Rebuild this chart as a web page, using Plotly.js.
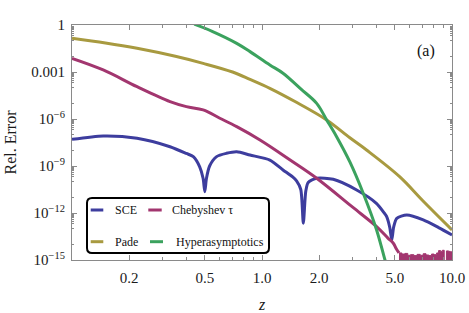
<!DOCTYPE html>
<html>
<head>
<meta charset="utf-8">
<script src="https://cdn.plot.ly/plotly-3.0.1.min.js"></script>
<style>html,body{margin:0;padding:0;background:#fff;}#chart{width:469px;height:313px;}</style>
</head>
<body>
<div id="chart"></div>
<script>
// ---- data (z values and log10 of relative error) ----
const sceZ = [0.1, 0.146, 0.22, 0.328, 0.4, 0.435, 0.47, 0.49, 0.5, 0.51, 0.53, 0.577, 0.65, 0.736, 0.865, 1.1, 1.29, 1.45, 1.52, 1.6, 1.65, 1.7, 1.75, 1.94, 2.37, 3.15, 4.0, 4.4, 4.53, 4.7, 4.82, 4.93, 5.12, 5.78, 7.06, 8.5, 10];
const sceLog = [-7.30, -7.08, -7.23, -7.77, -8.2, -8.40, -9.05, -9.8, -10.64, -9.8, -9.0, -8.40, -8.19, -8.09, -8.30, -8.62, -9.25, -9.7, -9.95, -10.5, -12.65, -10.6, -10.05, -9.78, -9.85, -10.53, -11.38, -12.0, -12.23, -12.9, -13.72, -12.9, -12.34, -12.13, -12.44, -12.93, -13.40];

const chebZ = [0.1, 0.146, 0.22, 0.328, 0.4, 0.49, 0.6, 0.736, 0.976, 1.4, 1.94, 3.0, 4.01, 4.6, 4.91, 5.1, 5.26];
const chebLog = [-2.13, -2.87, -3.94, -4.89, -5.21, -5.42, -5.95, -6.49, -7.34, -8.6, -9.78, -11.63, -12.87, -13.6, -13.93, -14.3, -14.55];

const chebNoiseZ = [5.26, 5.45, 5.65, 5.85, 6.05, 6.3, 6.55, 6.8, 7.05, 7.3, 7.55, 7.8, 8.05, 8.3, 8.5, 8.7, 8.9, 9.1, 9.35, 9.6, 9.8, 10];
const chebNoiseLog = [-14.55, -14.62, -14.58, -14.7, -14.66, -14.72, -14.64, -14.7, -14.6, -14.68, -14.72, -14.62, -14.66, -14.55, -14.4, -14.45, -14.38, -16, -14.42, -14.45, -14.48, -14.48];
const floorZ = [5.26, 10];
const floorLog = [-16, -16];

const padeZ = [0.1, 0.15, 0.22, 0.35, 0.49, 0.7, 0.865, 1.1, 1.5, 2.19, 2.9, 3.55, 5.3, 7, 10];
const padeLog = [-0.85, -1.15, -1.49, -2.0, -2.45, -3.0, -3.47, -4.04, -4.9, -6.06, -7.2, -7.98, -9.68, -11.2, -13.08];

const hyperZ = [0.44, 0.55, 0.736, 0.865, 1.1, 1.29, 1.6, 1.94, 2.19, 2.47, 2.9, 3.41, 4.01, 4.44, 4.6];
const hyperLog = [0.05, -0.42, -1.17, -1.70, -2.55, -3.08, -4.08, -5.0, -6.06, -7.13, -8.74, -10.74, -13.08, -15.0, -15.6];

const seriesNames = ["SCE", "Chebyshev τ", "Pade", "Hyperasymptotics"];
const seriesColors = ["#3d3d9e", "#a2366f", "#a89a40", "#3ba25e"];

const xTickVals = [0.2, 0.5, 1, 2, 5, 10];
const xTickText = ["0.2", "0.5", "1.0", "2.0", "5.0", "10.0"];
const xMinorVals = [0.3, 0.4, 0.6, 0.7, 0.8, 0.9, 3, 4, 6, 7, 8, 9];
const yTickVals = [1, 1e-3, 1e-6, 1e-9, 1e-12, 1e-15];
const yTickText = ["1", "0.001", "10<sup>−6</sup>", "10<sup>−9</sup>", "10<sup>−12</sup>", "10<sup>−15</sup>"];
const panelLabel = "(a)";

// ---- build ----
const pw = v => v.map(e => Math.pow(10, e));
const yMinor = [];
for (let j = 0; j <= 15; j += 3) {
  for (let k = 2; k <= 9; k++) yMinor.push(k * Math.pow(10, -j - 1));
  if (j < 15) { yMinor.push(Math.pow(10, -j - 1)); yMinor.push(Math.pow(10, -j - 2)); }
}

const LW = 3;
const traces = [
  {x: sceZ, y: pw(sceLog), mode: "lines", line: {color: seriesColors[0], width: LW, shape: "spline", smoothing: 0.7}, name: seriesNames[0]},
  {x: floorZ, y: pw(floorLog), mode: "lines", line: {width: 0, color: "rgba(0,0,0,0)"}, hoverinfo: "skip", showlegend: false},
  {x: chebNoiseZ, y: pw(chebNoiseLog), mode: "lines", line: {color: seriesColors[1], width: 1, shape: "hv"}, fill: "tonexty", fillcolor: seriesColors[1], showlegend: false},
  {x: chebZ, y: pw(chebLog), mode: "lines", line: {color: seriesColors[1], width: LW, shape: "spline", smoothing: 1}, name: seriesNames[1]},
  {x: padeZ, y: pw(padeLog), mode: "lines", line: {color: seriesColors[2], width: LW, shape: "spline", smoothing: 1}, name: seriesNames[2]},
  {x: hyperZ, y: pw(hyperLog), mode: "lines", line: {color: seriesColors[3], width: LW, shape: "spline", smoothing: 1}, name: seriesNames[3]}
];

const W = 469, H = 313, ML = 72, MR = 17, MT = 25, MB = 53;
const PW = W - ML - MR, PH = H - MT - MB;
const px = x => (x - ML) / PW;
const py = y => (H - MB - y) / PH;

const serif = "Liberation Serif, Times New Roman, serif";
const axisCol = "#8a8a8a";

// legend box (rounded)
const bx0 = px(87), bx1 = px(269), by0 = py(253), by1 = py(198);
const rx = 5 / PW, ry = 5 / PH;
const boxPath = `M ${bx0 + rx} ${by1} L ${bx1 - rx} ${by1} Q ${bx1} ${by1} ${bx1} ${by1 - ry} L ${bx1} ${by0 + ry} Q ${bx1} ${by0} ${bx1 - rx} ${by0} L ${bx0 + rx} ${by0} Q ${bx0} ${by0} ${bx0} ${by0 + ry} L ${bx0} ${by1 - ry} Q ${bx0} ${by1} ${bx0 + rx} ${by1} Z`;

const legendEntries = [
  {name: seriesNames[0], color: seriesColors[0], lx0: 90.7, lx1: 103.3, tx: 113, y: 210},
  {name: seriesNames[1], color: seriesColors[1], lx0: 148.3, lx1: 161.7, tx: 170, y: 210},
  {name: seriesNames[2], color: seriesColors[2], lx0: 90.7, lx1: 103.3, tx: 113, y: 241.7},
  {name: seriesNames[3], color: seriesColors[3], lx0: 150, lx1: 163, tx: 174, y: 241.7}
];

const shapes = [{type: "path", xref: "paper", yref: "paper", path: boxPath, line: {color: "#000", width: 2}, fillcolor: "#fff", layer: "above"}];
const annotations = [];
legendEntries.forEach(e => {
  shapes.push({type: "line", xref: "paper", yref: "paper", x0: px(e.lx0), x1: px(e.lx1), y0: py(e.y), y1: py(e.y), line: {color: e.color, width: 3}, layer: "above"});
  annotations.push({xref: "paper", yref: "paper", x: px(e.tx), y: py(e.y), text: e.name, showarrow: false, xanchor: "left", yanchor: "middle", font: {family: serif, size: 12, color: "#111"}});
});
annotations.push({xref: "paper", yref: "paper", x: px(426), y: py(51), text: panelLabel, showarrow: false, xanchor: "center", yanchor: "middle", font: {family: serif, size: 16, color: "#111"}});

const layout = {
  width: W, height: H,
  margin: {l: ML, r: MR, t: MT, b: MB, pad: 0},
  paper_bgcolor: "#fff", plot_bgcolor: "#fff",
  showlegend: false,
  font: {family: serif, color: "#1a1a1a"},
  xaxis: {
    type: "log", range: [-1, 1], automargin: false,
    tickmode: "array", tickvals: xTickVals, ticktext: xTickText,
    ticks: "inside", ticklen: 5, tickwidth: 1, tickcolor: axisCol,
    minor: {tickmode: "array", tickvals: xMinorVals, ticks: "inside", ticklen: 3, tickcolor: axisCol, showgrid: false},
    showline: true, linecolor: axisCol, linewidth: 1, mirror: "ticks",
    showgrid: false, zeroline: false,
    tickfont: {family: serif, size: 15, color: "#1a1a1a"},
    ticklabelstandoff: 4,
    title: {text: "<i>z</i>", font: {family: serif, size: 16, color: "#1a1a1a"}, standoff: 19}
  },
  yaxis: {
    type: "log", range: [-15, 0], automargin: false,
    tickmode: "array", tickvals: yTickVals, ticktext: yTickText,
    ticks: "inside", ticklen: 5, tickwidth: 1, tickcolor: axisCol,
    minor: {tickmode: "array", tickvals: yMinor, ticks: "inside", ticklen: 2, tickcolor: axisCol, showgrid: false},
    showline: true, linecolor: axisCol, linewidth: 1, mirror: "ticks",
    showgrid: false, zeroline: false,
    tickfont: {family: serif, size: 15, color: "#1a1a1a"},
    ticklabelstandoff: 3,
    title: {text: "Rel. Error", font: {family: serif, size: 16, color: "#1a1a1a"}, standoff: 10}
  },
  shapes: shapes,
  annotations: annotations
};

Plotly.newPlot("chart", traces, layout, {staticPlot: true, displayModeBar: false});
</script>
</body>
</html>
